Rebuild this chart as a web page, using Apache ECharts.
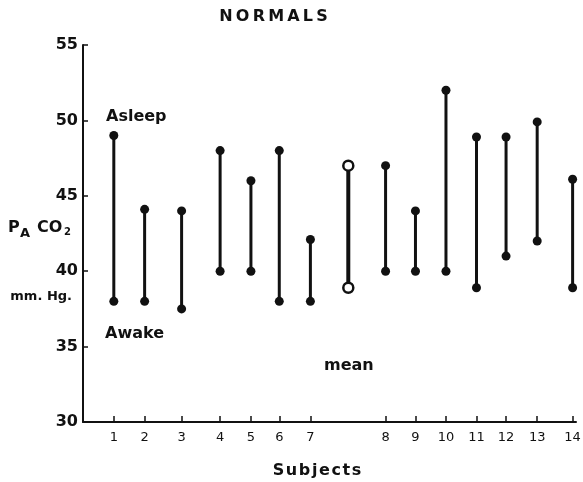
<!DOCTYPE html>
<html>
<head>
<meta charset="utf-8">
<script src="https://cdn.jsdelivr.net/npm/echarts@6/dist/echarts.min.js"></script>
<style>html,body{margin:0;padding:0;background:#fff}#c{width:583px;height:482px}</style>
</head>
<body>
<div id="c"></div>
<script>
// Subjects and their (uneven) positions along the x axis
const subjectLabels = ['1','2','3','4','5','6','7','8','9','10','11','12','13','14'];
const subjectPos = [1.0, 2.0, 3.2, 4.45, 5.45, 6.37, 7.38, 9.82, 10.79, 11.78, 12.77, 13.73, 14.74, 15.89];
// PA CO2 (mm Hg)
const awake  = [38, 38, 37.5, 40, 40, 38, 38, 40, 40, 40, 38.9, 41, 42, 38.9];
const asleep = [49, 44.1, 44, 48, 46, 48, 42.1, 47, 44, 52, 48.9, 48.9, 49.9, 46.1];
// Mean
const meanPos = 8.61;
const meanAwake = 38.9;
const meanAsleep = 47;
const yTicks = [30, 35, 40, 45, 50, 55];

const FONT = 'DejaVu Sans';
const rangeData = subjectPos.map((x, i) => [x, awake[i], asleep[i]]);
const dotData = [];
subjectPos.forEach((x, i) => { dotData.push([x, awake[i]]); dotData.push([x, asleep[i]]); });

function labelFor(v) {
  let best = 0, bd = 1e9;
  subjectPos.forEach((p, i) => { const d = Math.abs(p - v); if (d < bd) { bd = d; best = i; } });
  return subjectLabels[best];
}

function rangeRenderer(width) {
  return function (params, api) {
    const x = api.value(0);
    const p1 = api.coord([x, api.value(1)]);
    const p2 = api.coord([x, api.value(2)]);
    return { type: 'line', shape: { x1: p1[0], y1: p1[1], x2: p2[0], y2: p2[1] },
             style: { stroke: '#111', lineWidth: width } };
  };
}

const chart = echarts.init(document.getElementById('c'), null, { renderer: 'canvas' });
chart.setOption({
  backgroundColor: '#fff',
  animation: false,
  grid: { left: 83, right: 7, top: 45, bottom: 60, outerBoundsMode: 'none' },
  xAxis: {
    type: 'value', min: 0, max: 16,
    splitLine: { show: false },
    axisLine: { show: true, lineStyle: { color: '#111', width: 2 } },
    axisTick: { show: true, inside: true, length: 6, customValues: subjectPos, lineStyle: { color: '#111', width: 1.5 } },
    axisLabel: { customValues: subjectPos, formatter: labelFor, color: '#111', fontFamily: FONT, fontSize: 13, margin: 9 }
  },
  yAxis: {
    type: 'value', min: yTicks[0], max: yTicks[yTicks.length - 1], interval: 5,
    splitLine: { show: false },
    axisLine: { show: true, lineStyle: { color: '#111', width: 2 } },
    axisTick: { show: true, inside: true, length: 5, lineStyle: { color: '#111', width: 1.5 } },
    axisLabel: { color: '#111', fontFamily: FONT, fontWeight: 'bold', fontSize: 16, margin: 5 }
  },
  series: [
    { type: 'custom', data: rangeData, renderItem: rangeRenderer(3), encode: { x: 0, y: [1, 2] }, z: 2 },
    { type: 'custom', data: [[meanPos, meanAwake, meanAsleep]], renderItem: rangeRenderer(4), encode: { x: 0, y: [1, 2] }, z: 2 },
    { type: 'scatter', data: dotData, symbol: 'circle', symbolSize: 9, itemStyle: { color: '#111', opacity: 1 }, z: 3 },
    { type: 'scatter', data: [[meanPos, meanAwake], [meanPos, meanAsleep]], symbol: 'circle', symbolSize: 10,
      itemStyle: { color: '#fff', borderColor: '#111', borderWidth: 2.5, opacity: 1 }, z: 4 }
  ],
  graphic: [
    { type: 'text', style: { text: 'N\u2009O\u2009R\u2009M\u2009A\u2009L\u2009S', x: 273.5, y: 17, align: 'center', verticalAlign: 'middle', fill: '#111', font: 'bold 16px "DejaVu Sans"' } },
    { type: 'text', style: { text: 'Asleep', x: 106, y: 117, verticalAlign: 'middle', fill: '#111', font: 'bold 16px "DejaVu Sans"' } },
    { type: 'text', style: { text: 'Awake', x: 105, y: 334, verticalAlign: 'middle', fill: '#111', font: 'bold 16px "DejaVu Sans"' } },
    { type: 'text', style: { text: 'mean', x: 324, y: 366, verticalAlign: 'middle', fill: '#111', font: 'bold 16px "DejaVu Sans"' } },
    { type: 'text', style: { text: 'S\u200Au\u200Ab\u200Aj\u200Ae\u200Ac\u200At\u200As', x: 317, y: 471, align: 'center', verticalAlign: 'middle', fill: '#111', font: 'bold 16px "DejaVu Sans"' } },
    { type: 'text', style: { text: 'P', x: 8, y: 228, verticalAlign: 'middle', fill: '#111', font: 'bold 16px "DejaVu Sans"' } },
    { type: 'text', style: { text: 'A', x: 20, y: 234, verticalAlign: 'middle', fill: '#111', font: 'bold 13px "DejaVu Sans"' } },
    { type: 'text', style: { text: 'CO', x: 37, y: 228, verticalAlign: 'middle', fill: '#111', font: 'bold 16px "DejaVu Sans"' } },
    { type: 'text', style: { text: '2', x: 64, y: 232, verticalAlign: 'middle', fill: '#111', font: 'bold 10px "DejaVu Sans"' } },
    { type: 'text', style: { text: 'mm. Hg.', x: 72, y: 297, align: 'right', verticalAlign: 'middle', fill: '#111', font: 'bold 13px "DejaVu Sans"' } }
  ]
});
</script>
</body>
</html>
